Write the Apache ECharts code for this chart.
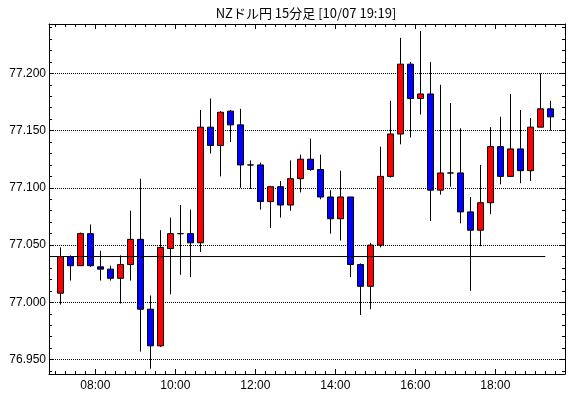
<!DOCTYPE html>
<html>
<head>
<meta charset="utf-8">
<script src="https://cdn.jsdelivr.net/npm/echarts@6/dist/echarts.min.js"></script>
<style>html,body{margin:0;padding:0;background:#fff;}#c{width:570px;height:398px;}</style>
</head>
<body>
<div id="c"></div>
<script>
// 15-minute bars starting at 07:00
const startTimes = ['07:00','07:15','07:30','07:45','08:00','08:15','08:30','08:45','09:00','09:15',
  '09:30','09:45','10:00','10:15','10:30','10:45','11:00','11:15','11:30','11:45',
  '12:00','12:15','12:30','12:45','13:00','13:15','13:30','13:45','14:00','14:15',
  '14:30','14:45','15:00','15:15','15:30','15:45','16:00','16:15','16:30','16:45',
  '17:00','17:15','17:30','17:45','18:00','18:15','18:30','18:45','19:00','19:15'];
const opens  = [77.008,77.040,77.032,77.060,77.031,77.029,77.021,77.033,77.055,76.994,
  76.962,77.047,77.060,77.060,77.052,77.153,77.137,77.167,77.155,77.120,
  77.120,77.088,77.101,77.085,77.108,77.125,77.116,77.092,77.073,77.092,
  77.033,77.014,77.050,77.110,77.147,77.208,77.178,77.182,77.098,77.113,
  77.113,77.079,77.063,77.087,77.136,77.110,77.134,77.115,77.153,77.169];
const closes = [77.040,77.032,77.060,77.032,77.029,77.021,77.033,77.055,76.994,76.962,
  77.048,77.060,77.060,77.052,77.153,77.137,77.166,77.155,77.120,77.120,
  77.088,77.101,77.085,77.108,77.125,77.116,77.092,77.073,77.092,77.033,
  77.014,77.050,77.110,77.147,77.208,77.178,77.182,77.098,77.113,77.113,
  77.079,77.063,77.087,77.136,77.110,77.134,77.115,77.153,77.169,77.162];
const lows   = [76.998,77.019,77.032,77.031,77.019,77.019,76.999,77.019,76.957,76.942,
  76.961,77.007,77.024,77.022,77.044,77.130,77.110,77.140,77.100,77.099,
  77.081,77.065,77.074,77.080,77.096,77.115,77.090,77.060,77.054,77.022,
  76.989,76.994,77.048,77.109,77.138,77.144,77.164,77.071,77.094,77.101,
  77.069,77.010,77.049,77.077,77.103,77.110,77.104,77.106,77.153,77.150];
const highs  = [77.048,77.041,77.061,77.068,77.045,77.032,77.041,77.080,77.108,77.006,
  77.063,77.074,77.085,77.081,77.168,77.178,77.167,77.168,77.169,77.124,
  77.122,77.101,77.106,77.124,77.129,77.143,77.129,77.098,77.115,77.092,
  77.034,77.052,77.136,77.176,77.231,77.210,77.237,77.210,77.190,77.174,
  77.152,77.092,77.120,77.153,77.162,77.182,77.168,77.161,77.200,77.176];
const refLevel = 77.040;
const refLineEnd = '19:15';
const titleText = 'NZドル円 15分足 [10/07 19:19]';

function toMin(s){ const p = s.split(':'); return (+p[0])*60 + (+p[1]); }
function fmtTime(v){ const h = Math.floor(v/60), m = Math.round(v%60); return (h<10?'0':'')+h+':'+(m<10?'0':'')+m; }

const candleData = startTimes.map((t,i)=>[toMin(t)+7.5, opens[i], closes[i], lows[i], highs[i]]);

const X_MIN = 410.5, X_MAX = 1184.5;
const Y_MIN = 76.9374, Y_MAX = 77.2431;
const FONT = "'Liberation Sans Narrow','Arial Narrow','Liberation Sans',sans-serif";

const chart = echarts.init(document.getElementById('c'), null, {renderer:'canvas'});

function xAx(pos, labels){
  return {
    type:'value', position:pos, min:X_MIN, max:X_MAX, minInterval:120, maxInterval:120,
    axisLine:{show:true, onZero:false, lineStyle:{color:'#000', width:1}},
    axisTick:{show:true, inside:true, length:5, lineStyle:{color:'#000', width:1}},
    minorTick:{show:true, splitNumber:8, length:3, lineStyle:{color:'#000', width:1}},
    axisLabel:{show:labels, formatter:fmtTime, showMinLabel:false, showMaxLabel:false, margin:6,
      color:'#000', fontSize:12, fontFamily:FONT},
    splitLine:{show:false}
  };
}
function yAx(pos, labels){
  return {
    type:'value', position:pos, min:Y_MIN, max:Y_MAX, minInterval:0.05, maxInterval:0.05,
    axisLine:{show:true, onZero:false, lineStyle:{color:'#000', width:1}},
    axisTick:{show:true, inside:true, length:5, lineStyle:{color:'#000', width:1}},
    minorTick:{show:true, splitNumber:5, length:3, lineStyle:{color:'#000', width:1}},
    axisLabel:{show:labels, formatter:v=>v.toFixed(3), showMinLabel:false, showMaxLabel:false, margin:3,
      color:'#000', fontSize:12, fontFamily:FONT},
    splitLine:{show:labels, lineStyle:{color:'#000', width:1, type:'dotted'}}
  };
}

chart.setOption({
  animation:false,
  backgroundColor:'#fff',
  grid:{left:49, right:5, top:24, bottom:24, containLabel:false},
  graphic:[{type:'text', x:306, y:13,
    style:{text:titleText, fill:'#000', font:"13px 'Noto Sans CJK JP', sans-serif", textAlign:'center', textVerticalAlign:'middle'}}],
  xAxis:[xAx('bottom', true), xAx('top', false)],
  yAxis:[yAx('left', true), yAx('right', false)],
  series:[
    {
      type:'candlestick', xAxisIndex:0, yAxisIndex:0,
      data:candleData, encode:{x:0, y:[1,2,3,4]},
      barWidth:6,
      itemStyle:{color:'#ff0000', color0:'#0000ff', borderColor:'#000', borderColor0:'#000', borderColorDoji:'#000', borderWidth:1},
      emphasis:{disabled:true}
    },
    {
      type:'line', xAxisIndex:0, yAxisIndex:0, symbol:'none', silent:true,
      data:[[X_MIN, refLevel],[toMin(refLineEnd), refLevel]],
      lineStyle:{color:'#000', width:1}
    }
  ]
});
</script>
</body>
</html>
